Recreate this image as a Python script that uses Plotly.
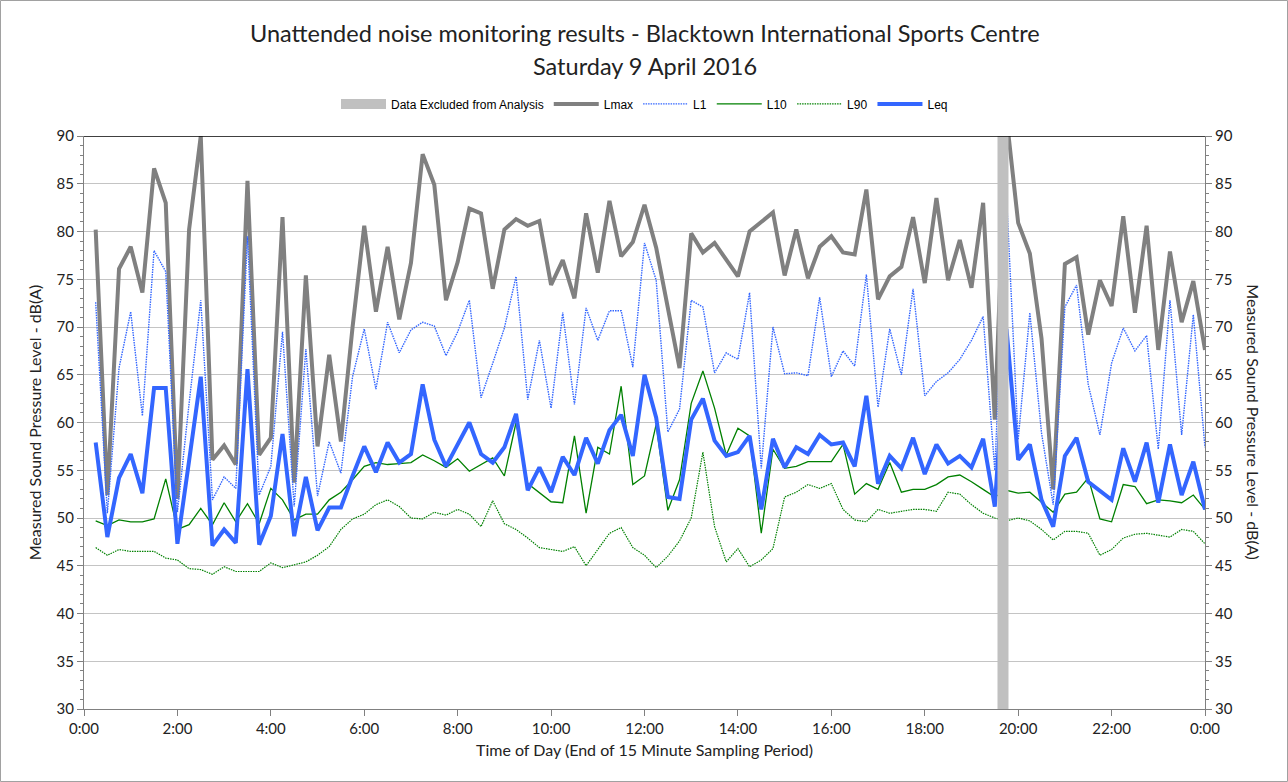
import plotly.graph_objects as go

# 15-minute sampling periods, each labelled by the end of its period (hours after midnight)
period_end_hours = [0.25 * k for k in range(1, 97)]

lmax = [80.2, 52.4, 76.1, 78.4, 73.6, 86.6, 83.0, 52.0, 80.2, 90.0, 56.1, 57.6, 55.6, 85.3, 56.6, 58.4,
        81.5, 53.7, 75.4, 57.5, 67.1, 58.0, 70.0, 80.6, 71.6, 78.4, 70.8, 76.7, 88.1, 84.9, 72.8, 76.8,
        82.4, 81.9, 74.0, 80.2, 81.3, 80.6, 81.1, 74.4, 77.0, 73.0, 81.9, 75.7, 83.2, 77.4, 78.9, 82.8,
        78.3, 72.0, 65.7, 79.8, 77.8, 78.8, 77.1, 75.3, 80.0, 81.0, 82.0, 75.4, 80.2, 75.1, 78.4, 79.5,
        77.8, 77.6, 84.4, 72.9, 75.3, 76.3, 81.5, 74.6, 83.5, 74.9, 79.1, 74.1, 83.0, 60.3, 92.0, 80.9,
        77.7, 68.8, 53.0, 76.6, 77.3, 69.2, 74.9, 72.2, 81.6, 71.5, 80.6, 67.6, 77.9, 70.5, 74.8, 67.6]

l1 = [72.6, 50.5, 65.7, 71.6, 60.7, 78.0, 75.8, 50.6, 62.0, 72.8, 51.9, 54.3, 53.1, 79.5, 52.4, 55.4,
      69.5, 51.2, 67.7, 52.3, 58.0, 54.7, 64.8, 69.8, 63.5, 70.5, 67.3, 69.7, 70.5, 70.1, 67.0, 69.5,
      72.8, 62.6, 66.2, 69.9, 75.3, 62.4, 68.6, 61.5, 71.5, 61.9, 72.0, 68.6, 71.7, 71.7, 65.8, 78.8,
      74.9, 59.0, 61.4, 72.8, 72.1, 65.2, 67.3, 66.6, 73.6, 55.2, 70.0, 65.1, 65.2, 64.9, 73.1, 64.8,
      67.5, 65.9, 75.5, 61.6, 69.8, 65.0, 74.0, 62.8, 64.3, 65.2, 66.6, 68.6, 71.1, 55.0, 83.8, 58.2,
      71.5, 58.9, 51.4, 72.1, 74.4, 64.0, 58.7, 66.2, 69.9, 67.5, 69.1, 57.2, 72.8, 58.7, 71.3, 57.4]

l10 = [49.7, 49.2, 49.8, 49.6, 49.6, 49.9, 54.1, 48.8, 49.3, 51.0, 49.3, 51.6, 49.6, 51.5, 49.4, 53.1,
       51.9, 49.8, 50.4, 50.4, 51.9, 52.7, 54.0, 55.4, 55.8, 55.6, 55.7, 55.8, 56.6, 56.0, 55.3, 56.2,
       54.9, 55.6, 56.3, 54.4, 60.0, 53.6, 52.6, 51.7, 51.6, 58.6, 50.5, 57.4, 56.7, 63.8, 53.5, 54.4,
       59.8, 50.8, 54.0, 62.0, 65.4, 61.5, 56.6, 59.4, 58.6, 48.4, 57.2, 55.2, 55.4, 55.9, 55.9, 55.9,
       57.7, 52.5, 53.6, 53.0, 55.8, 52.7, 53.0, 53.0, 53.5, 54.3, 54.5, 53.8, 53.0, 52.2, 52.9, 52.6,
       52.7, 51.6, 50.6, 52.5, 52.7, 54.2, 49.9, 49.6, 53.5, 53.3, 51.5, 51.9, 51.8, 51.6, 52.4, 50.9]

l90 = [46.9, 46.1, 46.7, 46.5, 46.5, 46.5, 45.8, 45.6, 44.7, 44.6, 44.1, 44.9, 44.4, 44.4, 44.4, 45.3,
       44.8, 45.1, 45.4, 46.1, 47.0, 48.8, 49.9, 50.4, 51.4, 51.9, 51.2, 50.0, 49.9, 50.6, 50.3, 50.9,
       50.4, 49.1, 51.8, 49.4, 48.8, 47.9, 46.9, 46.7, 46.5, 47.0, 45.0, 46.7, 48.4, 49.0, 46.9, 46.1,
       44.8, 46.0, 47.6, 50.0, 56.9, 49.1, 45.4, 46.8, 44.9, 45.6, 46.8, 52.2, 52.7, 53.5, 53.1, 53.6,
       50.9, 49.8, 49.6, 50.9, 50.5, 50.7, 50.9, 50.9, 50.7, 52.7, 52.5, 51.4, 50.5, 50.0, 49.7, 50.0,
       49.7, 48.8, 47.7, 48.6, 48.6, 48.4, 46.1, 46.7, 47.9, 48.3, 48.4, 48.2, 48.0, 48.8, 48.6, 47.3]

leq = [57.9, 48.0, 54.2, 56.7, 52.6, 63.6, 63.6, 47.3, 56.0, 64.8, 47.1, 48.8, 47.4, 65.6, 47.2, 50.2,
       58.8, 48.1, 54.3, 48.7, 51.1, 51.1, 54.4, 57.5, 54.8, 57.9, 55.8, 56.7, 64.0, 58.2, 55.4, 57.8,
       60.0, 56.7, 55.8, 57.4, 60.9, 52.9, 55.3, 52.7, 56.4, 54.5, 58.4, 55.7, 59.2, 60.8, 56.5, 65.0,
       60.5, 52.2, 52.0, 60.3, 62.5, 58.1, 56.5, 56.9, 58.6, 50.9, 58.3, 55.3, 57.4, 56.7, 58.7, 57.7,
       57.9, 55.4, 62.8, 53.6, 56.5, 55.2, 58.4, 54.6, 57.7, 55.7, 56.5, 55.3, 58.3, 51.2, 69.8, 56.1,
       57.7, 51.9, 49.1, 56.5, 58.4, 53.8, 52.8, 51.9, 57.3, 53.8, 57.9, 51.6, 57.7, 52.4, 55.9, 50.9]

# Period removed from the analysis (start and end, hours)
excluded_period = [19.55, 19.8]

y_range = [30, 90]
x_tick_hours = list(range(0, 25, 2))
x_tick_labels = ["0:00", "2:00", "4:00", "6:00", "8:00", "10:00", "12:00",
                 "14:00", "16:00", "18:00", "20:00", "22:00", "0:00"]

BLUE = "#3366FF"
GREEN = "#008000"
GREY = "#808080"
BAND = "#C0C0C0"
TEXT_FONT = "Lato"

fig = go.Figure()

mid_excluded = sum(excluded_period) / 2
fig.add_trace(go.Scatter(
    x=[mid_excluded, mid_excluded], y=y_range, yaxis="y2",
    mode="lines", name="Data Excluded from Analysis",
    line=dict(color=BAND, width=11), hoverinfo="skip"))

fig.add_trace(go.Scatter(x=period_end_hours, y=lmax, mode="lines", name="Lmax",
                         line=dict(color=GREY, width=4)))
fig.add_trace(go.Scatter(x=period_end_hours, y=l1, mode="lines", name="L1",
                         line=dict(color=BLUE, width=1.4, dash="1.5px,1px")))
fig.add_trace(go.Scatter(x=period_end_hours, y=l10, mode="lines", name="L10",
                         line=dict(color=GREEN, width=1.3)))
fig.add_trace(go.Scatter(x=period_end_hours, y=l90, mode="lines", name="L90",
                         line=dict(color=GREEN, width=1.2, dash="1.5px,1px")))
fig.add_trace(go.Scatter(x=period_end_hours, y=leq, mode="lines", name="Leq",
                         line=dict(color=BLUE, width=4)))

axis_font = dict(family=TEXT_FONT, size=15, color="#222222")
y_common = dict(
    range=y_range, dtick=5, tick0=30, showline=True, linecolor=GREY, linewidth=1,
    ticks="outside", ticklen=6, tickcolor=GREY, tickfont=axis_font,
    minor=dict(dtick=1, ticks="outside", ticklen=3, tickcolor=GREY, showgrid=False),
    zeroline=False,
)

fig.update_layout(
    width=1288, height=782,
    paper_bgcolor="white", plot_bgcolor="white",
    margin=dict(l=84, r=83, t=136, b=73),
    showlegend=True,
    legend=dict(orientation="h", x=0.5, xanchor="center", y=1.056, yanchor="middle",
                font=dict(family="Liberation Sans", size=12, color="#000000"),
                traceorder="normal", itemwidth=45),
    xaxis=dict(
        range=[0, 24], tickvals=x_tick_hours, ticktext=x_tick_labels,
        showline=True, linecolor=GREY, linewidth=1, ticks="outside", ticklen=6,
        tickcolor=GREY, tickfont=axis_font, showgrid=False, zeroline=False,
        title=dict(text="Time of Day (End of 15 Minute Sampling Period)",
                   font=dict(family=TEXT_FONT, size=16, color="#222222"), standoff=8),
    ),
    yaxis=dict(
        **y_common, showgrid=True, gridcolor="#C4C4C4", gridwidth=1.3,
        title=dict(text="Measured Sound Pressure Level - dB(A)",
                   font=dict(family=TEXT_FONT, size=16, color="#222222"), standoff=10),
    ),
    yaxis2=dict(**y_common, overlaying="y", side="right", showgrid=False),
    annotations=[
        dict(text="Unattended noise monitoring results - Blacktown International Sports Centre",
             xref="paper", yref="paper", x=0.5, y=1.18, xanchor="center", yanchor="middle",
             showarrow=False, font=dict(family=TEXT_FONT, size=23.5, color="#222222")),
        dict(text="Saturday 9 April 2016",
             xref="paper", yref="paper", x=0.5, y=1.122, xanchor="center", yanchor="middle",
             showarrow=False, font=dict(family=TEXT_FONT, size=23.5, color="#222222")),
        dict(text="Measured Sound Pressure Level - dB(A)", textangle=90,
             xref="paper", yref="paper", x=1.043, y=0.5, xanchor="center", yanchor="middle",
             showarrow=False, font=dict(family=TEXT_FONT, size=16, color="#222222")),
    ],
    shapes=[
        dict(type="line", xref="x", yref="y", x0=0, x1=24, y0=90, y1=90,
             line=dict(color="#000000", width=1.5)),
        dict(type="rect", xref="paper", yref="paper", x0=-0.0745, x1=1.0736,
             y0=-0.1265, y1=1.2365, line=dict(color="#A0A0A0", width=1)),
    ],
)

fig.write_html("out.html")
